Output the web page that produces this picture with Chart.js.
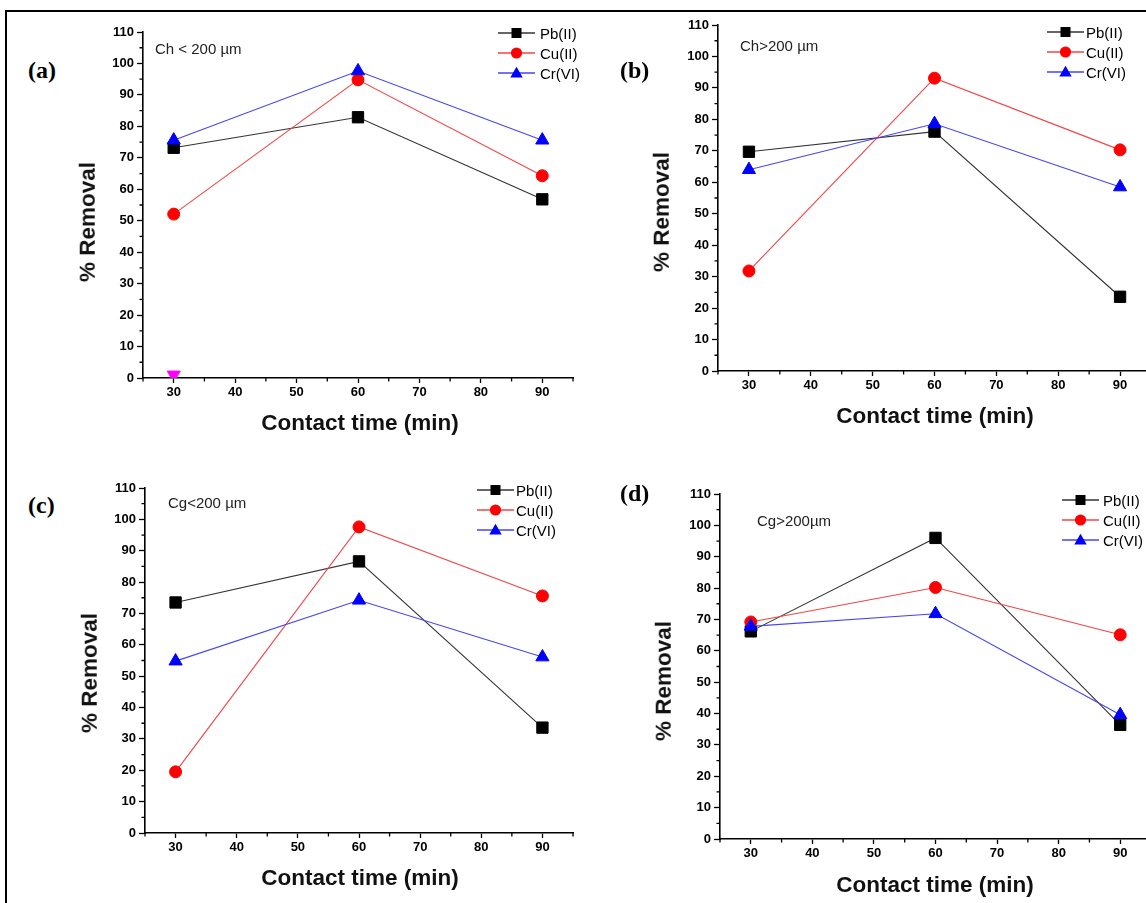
<!DOCTYPE html>
<html><head><meta charset="utf-8">
<script src="https://cdn.jsdelivr.net/npm/chart.js@4.4.1/dist/chart.umd.min.js"></script>
<style>
html,body{margin:0;padding:0;background:#fff;overflow:hidden;width:1146px;height:903px;}
#root{position:relative;width:1146px;height:903px;overflow:hidden;background:#fff;}
.t{position:absolute;white-space:nowrap;font-family:Arial,'Liberation Sans',sans-serif;color:#000;line-height:1;}
canvas{position:absolute;}
#frame{position:absolute;left:5px;top:10px;width:1200px;height:1000px;border-top:2px solid #000;border-left:2px solid #000;}
</style></head><body><div id="root"><div id="frame"></div></div>
<script>
// ---------------- data ----------------
const contactTimes = [30, 60, 90];
const xTickLabels = [30, 40, 50, 60, 70, 80, 90];
const yTickLabels = [0, 10, 20, 30, 40, 50, 60, 70, 80, 90, 100, 110];
const xMinorTicks = [25, 35, 45, 55, 65, 75, 85, 95];
const yMinorTicks = [5, 15, 25, 35, 45, 55, 65, 75, 85, 95, 105];
const seriesNames = ['Pb(II)', 'Cu(II)', 'Cr(VI)'];

const pbA = [73.2, 82.9, 56.8];
const cuA = [52.1, 94.8, 64.3];
const crA = [75.6, 97.6, 75.6];
const extraA = [1, null, null];

const pbB = [69.7, 76.1, 23.6];
const cuB = [31.8, 93.1, 70.3];
const crB = [64.0, 78.6, 58.5];

const pbC = [73.5, 86.6, 33.6];
const cuC = [19.5, 97.6, 75.6];
const crC = [54.8, 74.2, 56.1];

const pbD = [66.2, 96.0, 36.4];
const cuD = [69.2, 80.2, 65.1];
const crD = [67.8, 71.8, 39.6];

const panelLetters = ['(a)', '(b)', '(c)', '(d)'];
const panelNotes = ['Ch < 200 \u00b5m', 'Ch>200 \u00b5m', 'Cg<200 \u00b5m', 'Cg>200\u00b5m'];
const xTitle = 'Contact time (min)';
const yTitle = '% Removal';

// ---------------- layout / style ----------------
const root = document.getElementById('root');
const FONT = "Arial, 'Liberation Sans', sans-serif";
const styles = [
  {fill: '#000000', line: '#333333', shape: 'rect', r: 8, order: 2},
  {fill: '#ff0000', line: '#f04545', shape: 'circle', r: 6, order: 1},
  {fill: '#0000ff', line: '#4545f0', shape: 'triangle', r: 7.6, order: 0}
];
const panels = [
  {L: 143, R: 573, T: 32, B: 378, data: [pbA, cuA, crA], extra: extraA,
   letter: [28, 70], note: [155, 48], legend: [498, 540, [33, 52.5, 73]], yt: [88, 222], xt: [360, 423]},
  {L: 718, R: 1151, T: 25, B: 371, data: [pbB, cuB, crB],
   letter: [620, 70], note: [740, 45], legend: [1047, 1086, [32, 52, 72]], yt: [662, 212], xt: [935, 416]},
  {L: 145, R: 573, T: 488, B: 833, data: [pbC, cuC, crC],
   letter: [28, 505], note: [168, 502], legend: [477, 516, [490, 510, 530]], yt: [90, 673], xt: [360, 878]},
  {L: 720, R: 1151, T: 494, B: 839, data: [pbD, cuD, crD],
   letter: [620, 493], note: [757, 520], legend: [1062, 1103, [500, 519.5, 539.5]], yt: [664, 681], xt: [935, 885]}
];

const minorTickPlugin = {
  id: 'minorTicks',
  afterDraw(chart) {
    const {ctx, chartArea: a, scales: {x, y}} = chart;
    ctx.save();
    ctx.strokeStyle = '#000';
    ctx.lineWidth = 1.3;
    ctx.beginPath();
    xMinorTicks.forEach(v => {
      const px = x.getPixelForValue(v);
      ctx.moveTo(px, a.bottom); ctx.lineTo(px, a.bottom + 3.5);
    });
    yMinorTicks.forEach(v => {
      const py = y.getPixelForValue(v);
      ctx.moveTo(a.left, py); ctx.lineTo(a.left - 3.5, py);
    });
    ctx.stroke();
    ctx.restore();
  }
};

function addText(txt, x, y, css, rotate, anchorLeft) {
  const d = document.createElement('div');
  d.className = 't';
  d.textContent = txt;
  d.style.cssText += css;
  d.style.left = x + 'px';
  d.style.top = y + 'px';
  d.style.transform = (anchorLeft ? 'translate(0,-50%)' : 'translate(-50%,-50%)') + (rotate ? ' rotate(-90deg)' : '');
  root.appendChild(d);
}

function legendSvg(st) {
  let m;
  if (st.shape === 'rect') m = `<rect x="13.5" y="2" width="10" height="10" fill="${st.fill}"/>`;
  else if (st.shape === 'circle') m = `<circle cx="18.5" cy="7" r="5.6" fill="${st.fill}"/>`;
  else m = `<polygon points="18.5,0.8 12.3,11.6 24.7,11.6" fill="${st.fill}"/>`;
  return `<svg width="37" height="14" viewBox="0 0 37 14" style="display:block"><line x1="0" y1="7" x2="37" y2="7" stroke="${st.line}" stroke-width="1.3"/>${m}</svg>`;
}

panels.forEach((p, idx) => {
  const yW = 50, padT = 12, padR = 12, xH = 40;
  const W = p.R - p.L + yW + padR, H = p.B - p.T + padT + xH;
  const c = document.createElement('canvas');
  c.width = W; c.height = H;
  c.style.left = (p.L - yW) + 'px'; c.style.top = (p.T - padT) + 'px';
  c.style.width = W + 'px'; c.style.height = H + 'px';
  root.appendChild(c);

  const datasets = p.data.map((arr, i) => ({
    label: seriesNames[i],
    data: arr.map((v, j) => ({x: contactTimes[j], y: v})),
    borderColor: styles[i].line,
    borderWidth: 1.1,
    backgroundColor: styles[i].fill,
    pointBackgroundColor: styles[i].fill,
    pointBorderColor: styles[i].fill,
    pointBorderWidth: 1,
    pointStyle: styles[i].shape,
    pointRadius: styles[i].r,
    tension: 0,
    fill: false,
    order: styles[i].order
  }));
  if (p.extra) {
    datasets.push({
      label: 'extra',
      data: p.extra.map((v, j) => ({x: contactTimes[j], y: v})).filter(d => d.y !== null),
      showLine: false,
      pointStyle: 'triangle',
      rotation: 180,
      pointRadius: 7.5,
      pointBackgroundColor: '#ff00ff',
      pointBorderColor: '#ff00ff',
      borderColor: '#ff00ff',
      order: 3
    });
  }

  const tickFont = {family: FONT, size: 13, weight: 'bold'};
  new Chart(c, {
    type: 'line',
    data: {datasets},
    plugins: [minorTickPlugin],
    options: {
      responsive: false, animation: false, devicePixelRatio: 1,
      layout: {padding: {top: padT, right: padR, left: 0, bottom: 0}},
      plugins: {legend: {display: false}, tooltip: {enabled: false}},
      scales: {
        x: {
          type: 'linear', min: 25, max: 95,
          afterBuildTicks: s => { s.ticks = xTickLabels.map(v => ({value: v})); },
          afterFit: s => { s.height = xH; },
          grid: {display: true, drawOnChartArea: false, drawTicks: true, tickLength: 5, tickWidth: 1.3, tickColor: '#000', color: '#000'},
          border: {display: true, color: '#000', width: 1.6},
          ticks: {color: '#000', font: tickFont, padding: 2, maxRotation: 0, autoSkip: false}
        },
        y: {
          type: 'linear', min: 0, max: 110,
          afterBuildTicks: s => { s.ticks = yTickLabels.map(v => ({value: v})); },
          afterFit: s => { s.width = yW; },
          grid: {display: true, drawOnChartArea: false, drawTicks: true, tickLength: 6, tickWidth: 1.3, tickColor: '#000', color: '#000'},
          border: {display: true, color: '#000', width: 1.6},
          ticks: {color: '#000', font: tickFont, padding: 3, autoSkip: false}
        }
      }
    }
  });

  // texts
  addText(panelLetters[idx], p.letter[0], p.letter[1], "font-family:'Liberation Serif','Times New Roman',serif;font-weight:bold;font-size:24px;", false, true);
  addText(panelNotes[idx], p.note[0], p.note[1], 'font-size:15px;color:#222;', false, true);
  addText(yTitle, p.yt[0], p.yt[1], 'font-size:22.5px;font-weight:bold;color:#111;', true, false);
  addText(xTitle, p.xt[0], p.xt[1], 'font-size:22.5px;font-weight:bold;color:#111;', false, false);

  // legend
  seriesNames.forEach((name, i) => {
    const row = document.createElement('div');
    row.style.cssText = 'position:absolute;display:flex;align-items:center;height:14px;';
    row.style.left = p.legend[0] + 'px';
    row.style.top = (p.legend[2][i] - 7) + 'px';
    row.innerHTML = legendSvg(styles[i]);
    const tx = document.createElement('span');
    tx.className = 't';
    tx.style.cssText = 'position:absolute;font-size:15px;top:50%;transform:translateY(-50%);';
    tx.style.left = (p.legend[1] - p.legend[0]) + 'px';
    tx.textContent = name;
    row.appendChild(tx);
    root.appendChild(row);
  });
});
</script>
</body></html>
